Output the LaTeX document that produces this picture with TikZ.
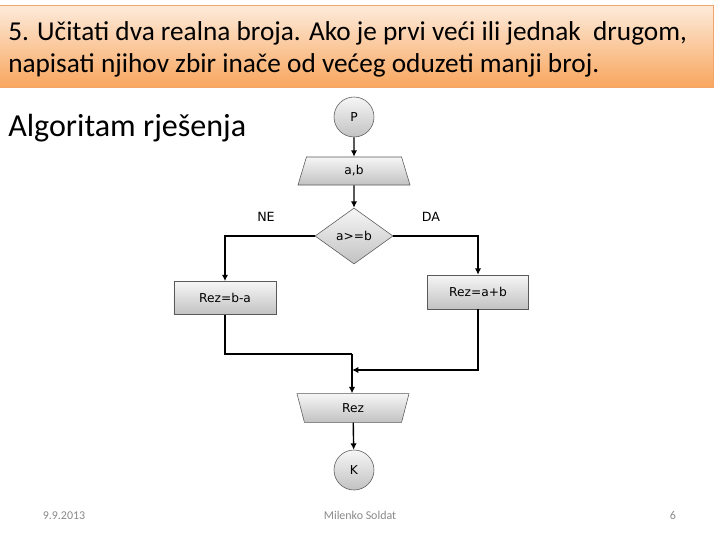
\documentclass[tikz,border=0pt]{standalone}
\usepackage{fontspec}
\setmainfont{Carlito}
\newfontfamily\flowfont{DejaVu Sans}
\usetikzlibrary{arrows.meta,shapes.geometric}
\definecolor{hdrtop}{HTML}{FDEBDB}
\definecolor{hdrbot}{HTML}{F8A65E}
\definecolor{hdrline}{HTML}{F2A46A}
\definecolor{boxtop}{HTML}{F6F6F6}
\definecolor{boxbot}{HTML}{C2C2C2}
\definecolor{footgray}{HTML}{8A8A8A}

\begin{document}
\begin{tikzpicture}[x=0.025cm,y=-0.025cm,
  blok/.style={draw=black!65,top color=boxtop,bottom color=boxbot,
    font=\flowfont\fontsize{8.7}{10}\selectfont,inner sep=1pt},
  tok/.style={-{Latex[length=4.5pt,width=4.5pt]},line width=1pt},
  linija/.style={line width=1pt},
  podnozje/.style={font=\fontsize{8.5}{9}\selectfont,text=footgray,anchor=base}]
\useasboundingbox (0,0) rectangle (720,540);
\fill[white] (0,0) rectangle (720,540);
% naslov
\shade[top color=hdrtop,bottom color=hdrbot,draw=hdrline] (-1,5) rectangle (713,87);
\node[anchor=base west,font=\fontsize{19.4}{22}\selectfont,inner sep=0] (red1) at (8,40)
  {5. Učitati dva realna broja. Ako je prvi veći ili jednak\ \ drugom,};
\node[anchor=base west,font=\fontsize{19.4}{22}\selectfont,inner sep=0] (red2) at (8,72)
  {napisati njihov zbir inače od većeg oduzeti manji broj.};
\node[anchor=base west,font=\fontsize{22.8}{26}\selectfont,inner sep=0] (alg) at (8,136)
  {Algoritam rješenja};
% dijagram toka
\node[blok,circle,minimum size=1cm] (poc) at (354,117) {P};
\node[blok,trapezium,trapezium left angle=58,trapezium right angle=58,
  trapezium stretches body,minimum width=2.8cm,minimum height=0.7cm] (ulaz) at (354,171) {a,b};
\node[blok,diamond,minimum width=1.95cm,minimum height=1.4cm,inner sep=0] (uslov) at (354,236) {a>=b};
\node[blok,rectangle,minimum width=2.55cm,minimum height=0.83cm] (bma) at (225,298) {Rez=b-a};
\node[blok,rectangle,minimum width=2.53cm,minimum height=0.85cm] (apb) at (478,292) {Rez=a+b};
\node[blok,trapezium,trapezium left angle=58,trapezium right angle=58,
  trapezium stretches body,shape border rotate=180,
  minimum width=2.8cm,minimum height=0.72cm] (izlaz) at (353,408) {Rez};
\node[blok,circle,minimum size=1cm] (kraj) at (354,470) {K};
\coordinate (spoj1) at (352,354);
\coordinate (spoj2) at (352,370);
\draw[tok] (poc) -- (ulaz);
\draw[tok] (ulaz) -- (uslov);
\draw[tok] (uslov.west) -| (bma.north);
\draw[tok] (uslov.east) -| (apb.north);
\draw[linija] (bma.south) |- (spoj1);
\draw[tok] (apb.south) |- (spoj2);
\draw[tok] (spoj1) -- (izlaz.north -| spoj1);
\draw[tok] (izlaz) -- (kraj);
\node[font=\flowfont\fontsize{9}{10}\selectfont] (ne) at (266,217) {NE};
\node[font=\flowfont\fontsize{9}{10}\selectfont] (da) at (431,217) {DA};
% podnozje
\node[podnozje] (datum) at (64,519) {9.9.2013};
\node[podnozje] (autor) at (360,519) {Milenko Soldat};
\node[podnozje] (broj) at (673,519) {6};
\end{tikzpicture}
\end{document}
